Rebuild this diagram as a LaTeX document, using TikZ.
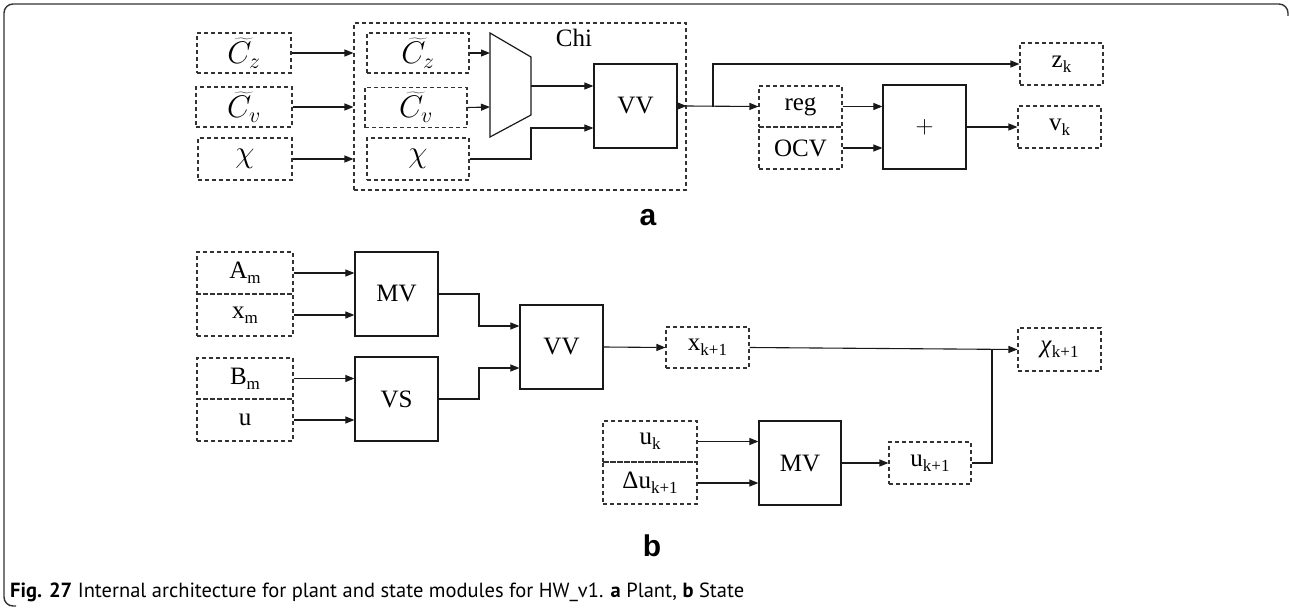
\RequirePackage{fix-cm}
\documentclass[tikz,border=0pt]{standalone}
\usepackage{fontspec}
\setmainfont{Liberation Serif}
\newfontfamily\capfont{PT Sans}
\newfontfamily\lblfont{Liberation Sans}
\usetikzlibrary{arrows.meta}
\newcommand\lsub[1]{\raisebox{-0.45ex}{\fontsize{17}{17}\selectfont #1}}
\newcommand\mth[1]{\scalebox{1.25}{$#1$}}
\begin{document}
\begin{tikzpicture}[x=1pt,y=-1pt,
  dbox/.style={draw=black!80,dashed,dash pattern=on 4pt off 3pt,line width=1.1pt,minimum width=83pt,minimum height=42pt,inner sep=0pt,font=\fontsize{25}{25}\selectfont},
  sbox/.style={draw=black!90,line width=1.2pt,minimum width=83pt,minimum height=84pt,inner sep=0pt,font=\fontsize{25}{25}\selectfont},
  arr/.style={-{Triangle[length=9pt,width=7pt]},line width=1.1pt,draw=black!90},
  ln/.style={line width=1.1pt,draw=black!90}]
\useasboundingbox (0,0) rectangle (1290,610);
% frame
\draw[line width=1.4pt,black!80,rounded corners=9pt] (1288,16) -- (1288,4) -- (4,4) -- (4,606) -- (16,606);
% ---------- part a ----------
\node[dbox,minimum width=94pt,minimum height=40pt] (cz1) at (244,53) {\mth{\widetilde{C_z}}};
\node[dbox,minimum width=96pt,minimum height=40pt] (cv1) at (244,107) {\mth{\widetilde{C_v}}};
\node[dbox,minimum width=94pt] (chi1) at (245,159) {\mth{\chi}};
\node[dbox,minimum width=332pt,minimum height=167pt] (chibox) at (520,106.5) {};
\node[font=\fontsize{25}{25}\selectfont] (chilbl) at (574,38) {Chi};
\node[dbox,minimum width=102pt,minimum height=40pt] (cz2) at (418,53) {\mth{\widetilde{C_z}}};
\node[dbox,minimum width=102pt,minimum height=40pt] (cv2) at (416,107.5) {\mth{\widetilde{C_v}}};
\node[dbox,minimum width=102pt] (chi2) at (418,159) {\mth{\chi}};
\draw[line width=1.2pt,black!90] (490,33) -- (531,57) -- (531,115) -- (490,137) -- cycle;
\coordinate (mxin1) at (490,53);
\coordinate (mxin2) at (490,107);
\coordinate (mxout) at (531,86);
\coordinate (mxlow) at (531,128);
\node[sbox] (vv1) at (635.5,106) {VV};
\node[dbox] (zk) at (1061.5,64) {z\lsub{k}};
\node[dbox,minimum height=41pt] (reg) at (800.5,106.5) {reg};
\node[dbox] (ocv) at (800.5,148) {OCV};
\node[sbox] (plus) at (924.5,127) {$+$};
\node[dbox] (vk) at (1059.5,127) {v\lsub{k}};
\coordinate (brk) at (713,107);

\draw[arr] (cz1.east) -- (cz1.east -| chibox.west);
\draw[arr] (cv1.east) -- (cv1.east -| chibox.west);
\draw[arr] (chi1.east) -- (chi1.east -| chibox.west);
\draw[arr] (cz2.east) -- (mxin1);
\draw[arr] (cv2.east) -- (mxin2);
\draw[arr] (mxout) -- (mxout -| vv1.west);
\draw[arr] (chi2.east) -| (mxlow) -- (mxlow -| vv1.west);
\draw[arr] (vv1.east) -- (vv1.east -| chibox.east);
\draw[arr] (vv1.east -| chibox.east) -- (reg.west);
\draw[arr] (brk) |- (zk.west);
\draw[arr] (reg.east) -- (reg.east -| plus.west);
\draw[arr] (ocv.east) -- (ocv.east -| plus.west);
\draw[arr] (plus.east) -- (vk.west);
\node[font=\lblfont\bfseries\fontsize{30}{30}\selectfont] (la) at (648,218) {a};
% ---------- part b ----------
\node[dbox,minimum width=96pt] (am) at (245,273) {A\lsub{m}};
\node[dbox,minimum width=96pt] (xm) at (245,315) {x\lsub{m}};
\node[dbox,minimum width=96pt,minimum height=41pt] (bm) at (245,378.5) {B\lsub{m}};
\node[dbox,minimum width=96pt] (u) at (245,420) {u};
\node[sbox] (mv1) at (396.5,294) {MV};
\node[sbox] (vs) at (396.5,399) {VS};
\node[sbox] (vv2) at (561.5,347) {VV};
\node[dbox,minimum height=41pt] (xk1) at (707.5,347.5) {x\lsub{k+1}};
\node[dbox,minimum height=43pt] (chik1) at (1059.5,349.5) {\textit{χ}\lsub{k+1}};
\node[dbox,minimum width=94pt,minimum height=41pt] (uk) at (650,441.5) {u\lsub{k}};
\node[dbox,minimum width=94pt] (duk) at (650,483) {Δu\lsub{k+1}};
\node[sbox,minimum width=82pt] (mv2) at (800,463) {MV};
\node[dbox,minimum width=82pt] (uk1) at (930,463) {u\lsub{k+1}};
\coordinate (j1) at (479,294);
\coordinate (j2) at (479,399);
\coordinate (jn) at (992,349.5);

\draw[arr] (am.east) -- (am.east -| mv1.west);
\draw[arr] (xm.east) -- (xm.east -| mv1.west);
\draw[arr] (bm.east) -- (bm.east -| vs.west);
\draw[arr] (u.east) -- (u.east -| vs.west);
\draw[arr] (mv1.east) -- (j1) -- (479,326) -- (vv2.west |- 0,326);
\draw[arr] (vs.east) -- (j2) -- (479,368) -- (vv2.west |- 0,368);
\draw[arr] (vv2.east) -- (xk1.west);
\draw[arr] (xk1.east) -- (chik1.west);
\draw[ln] (uk1.east) -| (jn);
\draw[arr] (uk.east) -- (uk.east -| mv2.west);
\draw[arr] (duk.east) -- (duk.east -| mv2.west);
\draw[arr] (mv2.east) -- (uk1.west);
\node[font=\lblfont\bfseries\fontsize{30}{30}\selectfont] (lb) at (652,546) {b};
% caption
\node[anchor=base west,inner sep=0pt,font=\capfont\fontsize{20.5}{20.5}\selectfont] (cap) at (10,597) {\textbf{Fig. 27} Internal architecture for plant and state modules for HW\_v1. \textbf{a} Plant, \textbf{b} State};
\end{tikzpicture}
\end{document}
